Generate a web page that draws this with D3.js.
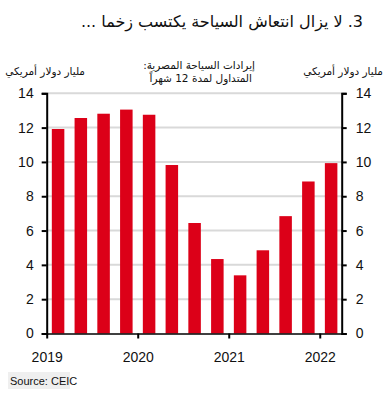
<!DOCTYPE html>
<html>
<head>
<meta charset="utf-8">
<script src="https://cdn.jsdelivr.net/npm/d3@7"></script>
<style>
  body { margin: 0; background: #fff; }
  svg text { font-family: "Liberation Sans", Arial, sans-serif; }
  .ar { font-family: "DejaVu Sans", sans-serif; }
</style>
</head>
<body>
<div id="chart"></div>
<script>
// quarterly 12-month rolling tourism revenue, bn USD
var quarters = ["2019Q1","2019Q2","2019Q3","2019Q4","2020Q1","2020Q2","2020Q3","2020Q4",
                "2021Q1","2021Q2","2021Q3","2021Q4","2022Q1"];
var revenue = [11.92, 12.56, 12.81, 13.05, 12.75, 9.82, 6.44, 4.34, 3.39, 4.85, 6.84, 8.86, 9.93];
var yearTicks = [2019, 2020, 2021, 2022];
var yTicks = [0, 2, 4, 6, 8, 10, 12, 14];

(function(){
  var width = 387, height = 396;
  var mLeft = 46.7, mRight = 342.5, mTop = 93.3, mBottom = 333.5;

  var svg = d3.select("#chart").append("svg")
    .attr("width", width)
    .attr("height", height);

  var y = d3.scaleLinear().domain([0, 14]).range([mBottom, mTop]);
  var x = d3.scaleBand().domain(quarters).range([mLeft, mRight]).paddingInner(0.45).paddingOuter(0.225);
  var xt = d3.scaleLinear().domain([2019, 2019 + quarters.length / 4]).range([mLeft, mRight]);

  // title
  svg.append("text")
    .attr("class", "ar")
    .attr("x", 363).attr("y", 27)
    .attr("direction", "rtl")
    .style("font-size", "16px")
    .attr("fill", "#111")
    .text("3. لا يزال انتعاش السياحة يكتسب زخما ...");

  // unit labels
  function arLabel(x0, y0, txt){
    svg.append("text").attr("class", "ar")
      .attr("x", x0).attr("y", y0)
      .attr("direction", "rtl")
      .style("font-size", "10.5px").attr("fill", "#111")
      .text(txt);
  }
  arLabel(85, 75, "مليار دولار أمريكي");
  arLabel(383, 75, "مليار دولار أمريكي");
  // legend text
  arLabel(255, 69, "إيرادات السياحة المصرية:");
  arLabel(252, 82, "المتداول لمدة 12 شهراً");

  // gridlines
  svg.append("g").selectAll("line")
    .data(yTicks.filter(function(d){ return d > 0; }))
    .enter().append("line")
    .attr("x1", mLeft).attr("x2", mRight - 0.8)
    .attr("y1", function(d){ return y(d); })
    .attr("y2", function(d){ return y(d); })
    .attr("stroke", "#d9d9d9")
    .attr("stroke-width", 2);

  // bars
  svg.append("g").selectAll("rect")
    .data(revenue)
    .enter().append("rect")
    .attr("x", function(d, i){ return x(quarters[i]); })
    .attr("width", x.bandwidth())
    .attr("y", function(d){ return y(d); })
    .attr("height", function(d){ return y(0) - y(d); })
    .attr("fill", "#dc0018");

  // axes
  var yl = svg.append("g")
    .attr("transform", "translate(" + mLeft + ",0)")
    .call(d3.axisLeft(y).tickValues(yTicks).tickSize(5).tickPadding(8).tickSizeOuter(5));
  var yr = svg.append("g")
    .attr("transform", "translate(" + (mRight - 0.8) + ",0)")
    .call(d3.axisRight(y).tickValues(yTicks).tickSize(5).tickPadding(9).tickSizeOuter(5));
  var xa = svg.append("g")
    .attr("transform", "translate(0," + mBottom + ")")
    .call(d3.axisBottom(xt).tickValues(yearTicks).tickFormat(d3.format("d")).tickSize(5).tickPadding(9).tickSizeOuter(0));

  [yl, yr].forEach(function(g){
    g.select(".domain").attr("stroke", "#000").attr("stroke-width", 2);
    g.selectAll(".tick line").attr("stroke", "#000").attr("stroke-width", 2);
  });
  xa.select(".domain").attr("stroke", "#000").attr("stroke-width", 1.5);
  xa.selectAll(".tick line").attr("stroke", "#000").attr("stroke-width", 2);
  svg.selectAll(".tick text")
    .attr("fill", "#111")
    .style("font-size", "14px")
    .style("font-family", "'Liberation Sans Narrow', 'Liberation Sans', Arial, sans-serif");
  xa.selectAll(".tick text").attr("dy", "1em");

  // source
  svg.append("rect")
    .attr("x", 8).attr("y", 372)
    .attr("width", 62).attr("height", 17)
    .attr("fill", "#efefef");
  svg.append("text")
    .attr("x", 10).attr("y", 385)
    .style("font-size", "11px")
    .style("font-family", "'Liberation Sans Narrow', 'Liberation Sans', Arial, sans-serif")
    .attr("fill", "#111")
    .text("Source: CEIC");
})();
</script>
</body>
</html>
